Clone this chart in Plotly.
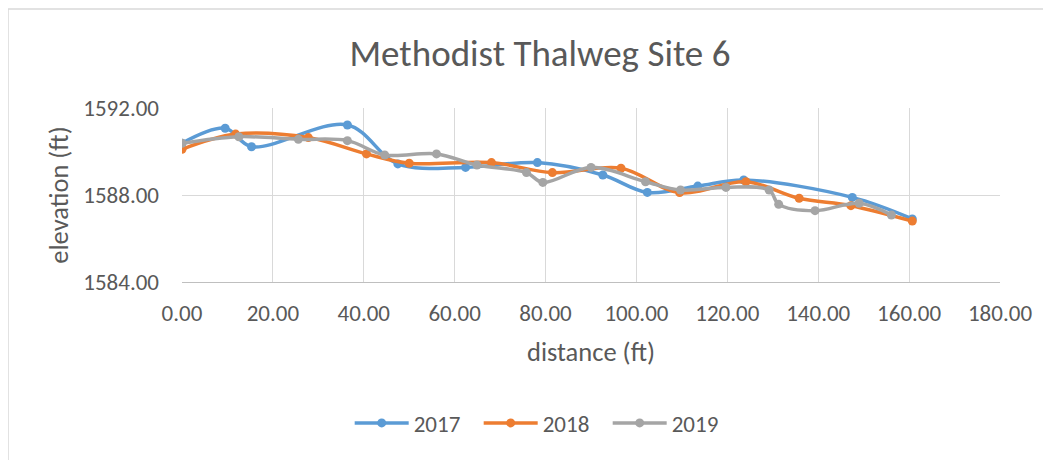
import plotly.graph_objects as go


# Дані
dist_2017 = [0.0, 9.5, 15.3, 36.4, 47.5, 62.4, 78.2, 92.6, 102.4, 113.5, 123.6, 147.5, 160.7]
elev_2017 = [1590.38, 1591.07, 1590.22, 1591.22, 1589.43, 1589.27, 1589.49, 1588.92, 1588.12,
             1588.41, 1588.69, 1587.89, 1586.90]

dist_2018 = [0.0, 11.8, 27.8, 40.6, 50.0, 68.1, 81.5, 96.6, 109.5, 124.1, 135.8, 147.2, 160.7]
elev_2018 = [1590.10, 1590.80, 1590.64, 1589.89, 1589.46, 1589.49, 1589.03, 1589.23, 1588.11,
             1588.61, 1587.85, 1587.51, 1586.80]

dist_2019 = [0.0, 12.5, 25.6, 36.4, 44.6, 56.0, 64.9, 75.8, 79.4, 90.0, 102.0, 109.7, 119.7,
             129.2, 131.3, 139.3, 149.0, 156.1]
elev_2019 = [1590.38, 1590.68, 1590.56, 1590.50, 1589.84, 1589.89, 1589.38, 1589.03, 1588.58,
             1589.27, 1588.61, 1588.23, 1588.35, 1588.23, 1587.57, 1587.28, 1587.62, 1587.08]

series_names = ['2017', '2018', '2019']
series_colors = ['#5B9BD5', '#ED7D31', '#A5A5A5']

FONT = 'Calibri, Carlito, Lato, sans-serif'
GREY_TEXT = '#595959'

# сторінка має відступ body 8px, тому фігура трохи менша за вікно
W, H = 1043, 452
PLOT_L, PLOT_T, PLOT_W, PLOT_H = 174, 100, 818, 174


# Побудова графіка
def build_figure():
    fig = go.Figure()
    data = [(dist_2017, elev_2017), (dist_2018, elev_2018), (dist_2019, elev_2019)]
    for (xs, ys), name, color in zip(data, series_names, series_colors):
        fig.add_trace(go.Scatter(
            x=xs, y=ys, name=name, mode='lines+markers',
            line=dict(color=color, width=3.5, shape='spline', smoothing=1),
            marker=dict(color=color, size=9),
        ))

    fig.update_layout(
        width=W, height=H,
        margin=dict(l=PLOT_L, r=W - PLOT_L - PLOT_W, t=PLOT_T, b=H - PLOT_T - PLOT_H,
                    autoexpand=False),
        paper_bgcolor='white', plot_bgcolor='white',
        font=dict(family=FONT, color=GREY_TEXT, size=23),
        title=dict(text='Methodist Thalweg Site 6', x=0.51, xanchor='center',
                   y=0.9, yanchor='middle', font=dict(size=37, color=GREY_TEXT)),
        showlegend=True,
        legend=dict(orientation='h', x=0.205, xanchor='left', y=-0.81, yanchor='middle',
                    font=dict(size=23, color=GREY_TEXT), itemwidth=54, entrywidth=60,
                    traceorder='normal'),
    )

    fig.update_xaxes(
        range=[0, 180], dtick=20, tick0=0, tickformat='.2f',
        showgrid=True, gridcolor='#D9D9D9', gridwidth=1, zeroline=False,
        showline=True, linecolor='#BFBFBF', linewidth=1,
        ticks='', ticklabelstandoff=10,
        title=dict(text='distance (ft)', standoff=16, font=dict(size=26.5, color=GREY_TEXT)),
    )
    fig.update_yaxes(
        range=[1584, 1592], dtick=4, tick0=1584, tickformat='.2f',
        showgrid=True, gridcolor='#D9D9D9', gridwidth=1, zeroline=False,
        showline=False, ticks='', ticklabelstandoff=22,
        title=dict(text='elevation (ft)', standoff=6, font=dict(size=26.5, color=GREY_TEXT)),
    )

    # Рамка області діаграми
    fig.add_shape(type='rect', xref='paper', yref='paper',
                  x0=(0 - PLOT_L) / PLOT_W, x1=(1037 - PLOT_L) / PLOT_W,
                  y0=-(H + 20 - PLOT_T - PLOT_H) / PLOT_H, y1=(PLOT_T + PLOT_H - 1) / PLOT_H,
                  line=dict(color='#D9D9D9', width=1.5), fillcolor='rgba(0,0,0,0)', layer='below')
    return fig


def main():
    fig = build_figure()
    fig.write_html("out.html")


if __name__ == "__main__":
    main()
